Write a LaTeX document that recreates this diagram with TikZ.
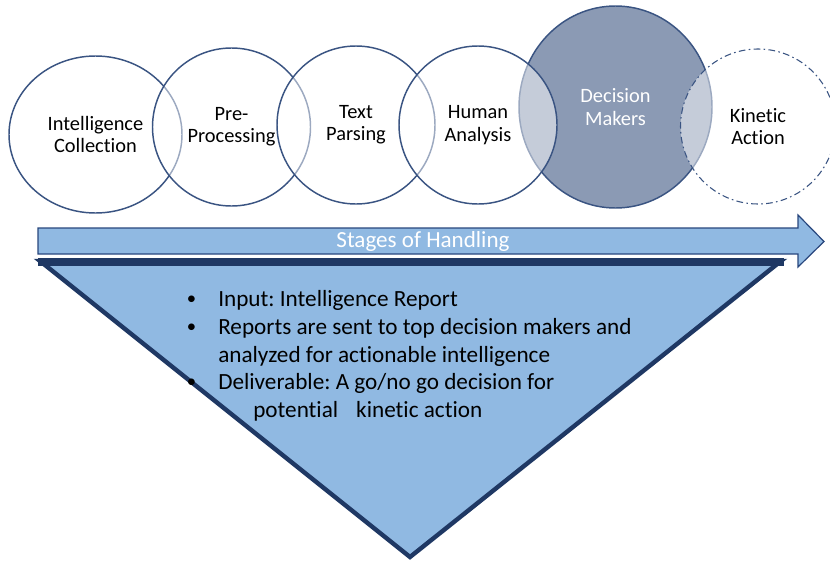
\documentclass[tikz,border=0pt]{standalone}
\usepackage{fontspec}
\setmainfont[Ligatures={NoCommon}]{Carlito}
\usetikzlibrary{shapes.geometric}

\definecolor{ringline}{RGB}{58,84,130}
\definecolor{dmfill}{RGB}{139,154,180}
\definecolor{paleblue}{RGB}{144,185,226}
\definecolor{deepnavy}{RGB}{31,56,100}
\definecolor{arrowline}{RGB}{40,70,125}

\newcommand{\listdot}{\llap{\raisebox{1.3pt}{\fontsize{14}{14}\selectfont\textbullet}\hspace{16.5pt}}}

\begin{document}
\frenchspacing
\begin{tikzpicture}[x=0.75pt,y=-0.75pt,
  ring/.style={draw=ringline,line width=1.1pt,fill=white,fill opacity=0.5,
    text opacity=1,inner sep=0pt,align=center,
    font=\fontsize{15.3}{16.8}\selectfont},
  bigring/.style={ring,ellipse,fill=dmfill,fill opacity=1,text=white},
  stagetext/.style={font=\fontsize{17.3}{20}\selectfont,inner sep=0pt},
  bullettext/.style={font=\fontsize{17.4}{20.8}\selectfont,inner sep=0pt,anchor=base west}]

\useasboundingbox (0,0) rectangle (830,564);

% decision circle first, the neighbouring rings lie over it
\node[bigring,minimum width=144.75pt,minimum height=151.5pt] (dm) at (615.5,107) {Decision\\Makers};

\node[ring,ellipse,minimum width=129.75pt,minimum height=117.75pt] (ic) at (95.5,134.5) {Intelligence\\Collection};
\node[ring,circle,minimum size=118.5pt] (pp) at (231.5,127) {Pre-\\Processing};
\node[ring,circle,minimum size=118.5pt] (tp) at (356,125) {Text\\Parsing};
\node[ring,circle,minimum size=118.5pt] (ha) at (478,125) {Human\\Analysis};
\node[ring,circle,minimum size=116.25pt,line width=0.8pt,
      dash pattern=on 5pt off 2.5pt on 1.2pt off 2.5pt] (ka) at (758,126.5) {Kinetic\\Action};

% stages arrow
\draw[draw=arrowline,line width=0.9pt,fill=paleblue,line join=miter]
  (38,228) -- (798,228) -- (798,215) -- (824,241.5) -- (798,267) -- (798,254) -- (38,254) -- cycle;
\node[stagetext,text=white] (stages) at (423,241) {Stages of Handling};

% funnel
\draw[draw=deepnavy,line width=3.3pt,fill=paleblue,line join=miter]
  (40,261) -- (781,261) -- (410,557) -- cycle;
\fill[deepnavy] (38,258) rectangle (784,266);

\node[bullettext] (l1) at (218,306) {\listdot Input: Intelligence Report};
\node[bullettext] (l2) at (218,334) {\listdot Reports are sent to top decision makers and};
\node[bullettext] (l3) at (218,362) {analyzed for actionable intelligence};
\node[bullettext] (l4) at (218,389) {\listdot Deliverable: A go/no go decision for};
\node[bullettext] (l5) at (253,417) {potential\hspace{13.5pt}kinetic action};

\end{tikzpicture}
\end{document}
